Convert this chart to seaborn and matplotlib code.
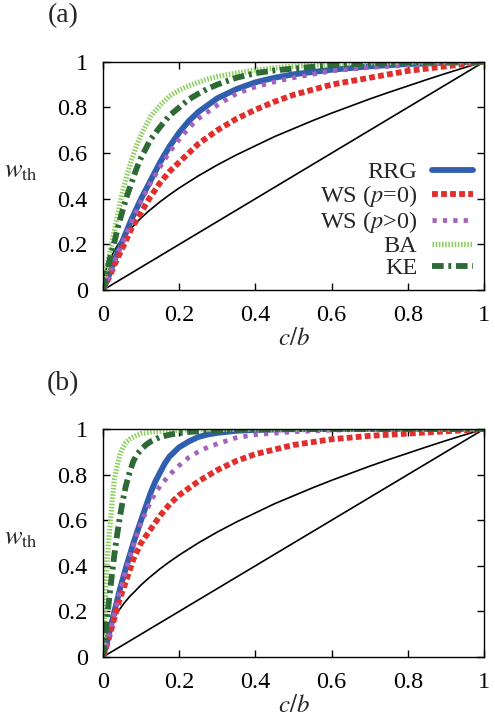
import numpy as np
import pandas as pd
import seaborn as sns
import matplotlib
matplotlib.use('Agg')
import matplotlib.pyplot as plt

# ---- data ----
labels = ['RRG', 'WS ($p$=0)', 'WS ($p$>0)', 'BA', 'KE']

# reference lines (same in both panels)
x_diag = [0.0, 1.0]
y_diag = [0.0, 1.0]
x_root = [0, 0.003, 0.006, 0.01, 0.015, 0.02, 0.03, 0.04, 0.055, 0.07, 0.085, 0.1, 0.12, 0.15,
          0.175, 0.2, 0.25, 0.3, 0.35, 0.4, 0.45, 0.5, 0.55, 0.6, 0.65, 0.7, 0.75, 0.8,
          0.85, 0.9, 0.95, 1.0]
y_root = [0, 0.055, 0.077, 0.10, 0.122, 0.141, 0.173, 0.20, 0.235, 0.265, 0.29, 0.316, 0.346, 0.387,
          0.418, 0.447, 0.50, 0.548, 0.592, 0.632, 0.672, 0.707, 0.742, 0.775, 0.806, 0.837, 0.866,
          0.894, 0.922, 0.949, 0.975, 1.0]

# panel (a)
x_a = [0, 0.005, 0.01, 0.02, 0.03, 0.04, 0.05, 0.0625, 0.075, 0.0875, 0.1, 0.125, 0.15, 0.175,
       0.2, 0.225, 0.25, 0.275, 0.3, 0.35, 0.4, 0.45, 0.5, 0.6, 0.7, 0.8, 0.9, 1.0]
rrg_a = [0, 0.02, 0.04, 0.085, 0.13, 0.17, 0.21, 0.26, 0.31, 0.355, 0.40, 0.48, 0.56, 0.63,
         0.69, 0.74, 0.78, 0.81, 0.84, 0.88, 0.91, 0.93, 0.945, 0.965, 0.98, 0.99, 0.995, 1.0]
ws0_a = [0, 0.017, 0.035, 0.07, 0.11, 0.145, 0.18, 0.225, 0.27, 0.305, 0.34, 0.41, 0.47, 0.52,
         0.56, 0.60, 0.64, 0.67, 0.70, 0.75, 0.79, 0.825, 0.855, 0.90, 0.93, 0.96, 0.98, 1.0]
wsp_a = [0, 0.02, 0.04, 0.08, 0.125, 0.165, 0.20, 0.25, 0.30, 0.345, 0.39, 0.47, 0.54, 0.605,
         0.66, 0.71, 0.75, 0.78, 0.81, 0.86, 0.89, 0.912, 0.93, 0.96, 0.975, 0.985, 0.995, 1.0]
ba_a = [0, 0.05, 0.10, 0.18, 0.26, 0.34, 0.42, 0.50, 0.57, 0.63, 0.68, 0.76, 0.81, 0.85,
        0.875, 0.895, 0.91, 0.924, 0.935, 0.95, 0.963, 0.973, 0.98, 0.99, 0.995, 0.998, 1.0, 1.0]
ke_a = [0, 0.04, 0.08, 0.15, 0.21, 0.28, 0.34, 0.41, 0.47, 0.53, 0.58, 0.66, 0.715, 0.765,
        0.80, 0.835, 0.86, 0.882, 0.90, 0.93, 0.95, 0.962, 0.97, 0.985, 0.992, 0.997, 1.0, 1.0]

# panel (b)
x_b = [0, 0.0025, 0.005, 0.0075, 0.01, 0.015, 0.02, 0.025, 0.03, 0.0375, 0.045, 0.0525, 0.06,
       0.07, 0.08, 0.09, 0.1, 0.1125, 0.125, 0.1375, 0.15, 0.1625, 0.175, 0.1875, 0.2, 0.225,
       0.25, 0.275, 0.3, 0.35, 0.4, 0.5, 0.6, 0.7, 0.8, 0.9, 1.0]
rrg_b = [0, 0.015, 0.03, 0.045, 0.06, 0.095, 0.13, 0.165, 0.20, 0.25, 0.30, 0.345, 0.39,
         0.445, 0.50, 0.55, 0.60, 0.66, 0.72, 0.77, 0.81, 0.85, 0.88, 0.90, 0.92, 0.945,
         0.965, 0.976, 0.983, 0.992, 0.996, 0.999, 1.0, 1.0, 1.0, 1.0, 1.0]
ws0_b = [0, 0.012, 0.025, 0.037, 0.05, 0.08, 0.11, 0.14, 0.17, 0.215, 0.26, 0.295, 0.33,
         0.38, 0.43, 0.465, 0.50, 0.53, 0.56, 0.59, 0.62, 0.645, 0.67, 0.69, 0.71, 0.74,
         0.77, 0.795, 0.82, 0.86, 0.89, 0.93, 0.955, 0.97, 0.98, 0.99, 1.0]
wsp_b = [0, 0.015, 0.03, 0.045, 0.06, 0.09, 0.12, 0.155, 0.19, 0.24, 0.29, 0.335, 0.38,
         0.435, 0.49, 0.54, 0.59, 0.635, 0.68, 0.72, 0.75, 0.775, 0.80, 0.82, 0.84, 0.875,
         0.90, 0.92, 0.935, 0.962, 0.975, 0.988, 0.995, 0.998, 1.0, 1.0, 1.0]
ba_b = [0, 0.10, 0.20, 0.30, 0.40, 0.51, 0.60, 0.70, 0.78, 0.84, 0.89, 0.92, 0.94,
        0.955, 0.965, 0.973, 0.98, 0.983, 0.987, 0.989, 0.99, 0.991, 0.993, 0.994, 0.995, 0.996,
        0.997, 0.9975, 0.998, 0.999, 1.0, 1.0, 1.0, 1.0, 1.0, 1.0, 1.0]
ke_b = [0, 0.04, 0.08, 0.12, 0.16, 0.235, 0.31, 0.38, 0.45, 0.54, 0.62, 0.69, 0.75,
        0.81, 0.86, 0.89, 0.91, 0.93, 0.945, 0.955, 0.965, 0.97, 0.975, 0.979, 0.982, 0.987,
        0.99, 0.993, 0.995, 0.997, 0.998, 1.0, 1.0, 1.0, 1.0, 1.0, 1.0]

ticks = [0, 0.2, 0.4, 0.6, 0.8, 1]
tick_labels = ['0', '0.2', '0.4', '0.6', '0.8', '1']

# ---- styling ----
sns.set_theme(style='ticks')
plt.rcParams['font.family'] = ['Liberation Serif', 'DejaVu Serif']
plt.rcParams['mathtext.fontset'] = 'stix'
plt.rcParams['axes.linewidth'] = 1.0

styles = [
    dict(color='#2f5fae', lw=4.2, linestyle='-'),
    dict(color='#e0302e', lw=4.2, linestyle=(0, (1.0, 0.55))),
    dict(color='#a461bd', lw=3.4, linestyle=(0, (0.9, 1.3))),
    dict(color='#8fd060', lw=3.8, linestyle=(0, (0.3, 0.3))),
    dict(color='#2d6a35', lw=4.2, linestyle=(0, (2.0, 0.8, 0.5, 0.8))),
]

fig = plt.figure(figsize=(4.95, 7.18), dpi=100)
ax_a = fig.add_axes([0.208, 0.596, 0.770, 0.318])
ax_b = fig.add_axes([0.208, 0.085, 0.770, 0.3175])

panels = [
    (ax_a, x_a, [rrg_a, ws0_a, wsp_a, ba_a, ke_a], '(a)', 0.978),
    (ax_b, x_b, [rrg_b, ws0_b, wsp_b, ba_b, ke_b], '(b)', 0.466),
]

for ax, xs, series, tag, tag_y in panels:
    sns.lineplot(x=x_diag, y=y_diag, ax=ax, color='black', lw=1.2)
    sns.lineplot(x=x_root, y=y_root, ax=ax, color='black', lw=1.2)
    for lab, ys, st in zip(labels, series, styles):
        sns.lineplot(x=xs, y=ys, ax=ax, label=lab, sort=False, **st)
    ax.set_xlim(0, 1)
    ax.set_ylim(0, 1)
    ax.set_xticks(ticks)
    ax.set_xticklabels(tick_labels)
    ax.set_yticks(ticks)
    ax.set_yticklabels(tick_labels)
    ax.tick_params(direction='in', length=5, width=1, labelsize=17.5,
                   top=True, right=True, pad=11, colors='black')
    for sp in ax.spines.values():
        sp.set_visible(True)
        sp.set_color('black')
    ax.set_xlabel('$c/b$', fontsize=18, labelpad=1)
    ax.set_ylabel('$w_{\\mathrm{th}}$', fontsize=19, rotation=0)
    ax.yaxis.set_label_coords(-0.215, 0.47)
    fig.text(0.128, tag_y, tag, fontsize=20, ha='center', va='center')

leg = ax_a.legend(loc='lower right', frameon=False, fontsize=17.5, markerfirst=False,
                  handlelength=1.7, handletextpad=0.6, labelspacing=0.0,
                  borderaxespad=0.05)
ax_b.get_legend().remove()

fig.savefig('out.png', dpi=100)
